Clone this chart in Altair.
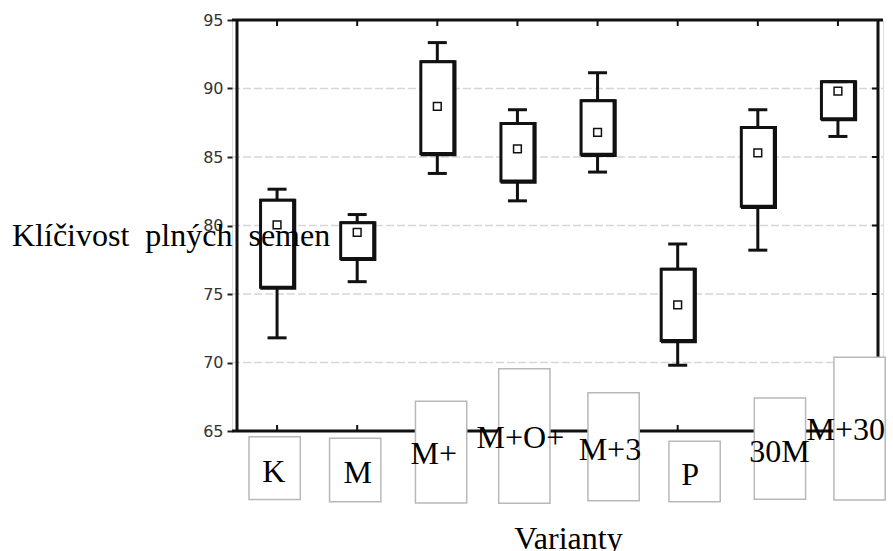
import altair as alt
import pandas as pd

# ---- data ----
categories = ["K", "M", "M+", "M+O+", "M+3", "P", "30M", "M+30"]
whisker_low = [71.8, 75.9, 83.8, 81.8, 83.9, 69.8, 78.2, 86.5]
q1 = [75.5, 77.6, 85.25, 83.25, 85.2, 71.6, 81.4, 87.8]
median = [80.05, 79.5, 88.7, 85.6, 86.8, 74.2, 85.3, 89.8]
q3 = [81.85, 80.2, 91.95, 87.45, 89.1, 76.8, 87.15, 90.5]
whisker_high = [82.65, 80.8, 93.35, 88.45, 91.15, 78.65, 88.45, 90.5]

y_ticks = [65, 70, 75, 80, 85, 90, 95]
grid_values = [70, 75, 80, 85, 90]

# ---- layout of the pasted label boxes (data units) ----
label_box_shift = [-0.03, -0.025, 0.047, 0.086, 0.2, 0.211, 0.276, 0.27]
label_box_half = 0.32
label_box_top = [64.58, 64.47, 67.17, 69.55, 67.8, 64.25, 67.41, 70.38]
label_box_bottom = [60.0, 59.84, 59.74, 59.72, 59.91, 59.84, 60.02, 59.96]
label_text_shift = [-0.04, 0.006, -0.043, 0.037, 0.154, 0.154, 0.27, 0.098]
label_text_base = [61.3, 61.18, 62.6, 63.76, 62.88, 61.06, 62.76, 64.34]

pos = [i + 0.5 for i in range(len(categories))]

df = pd.DataFrame({
    "cat": categories, "pos": pos, "lo": whisker_low, "q1": q1,
    "med": median, "q3": q3, "hi": whisker_high,
    "top": [95] * len(categories), "bottom": [65] * len(categories),
})

lab = pd.DataFrame({
    "cat": categories,
    "bx": [p + s - label_box_half for p, s in zip(pos, label_box_shift)],
    "bx2": [p + s + label_box_half for p, s in zip(pos, label_box_shift)],
    "by": label_box_top, "by2": label_box_bottom,
    "tx": [p + s for p, s in zip(pos, label_text_shift)],
    "ty": label_text_base,
})

right_ticks = pd.DataFrame({"v": y_ticks[1:-1], "edge": [8] * 5})

xscale = alt.Scale(domain=[0, 8], nice=False, zero=False)
yscale = alt.Scale(domain=[65, 95], nice=False, zero=False)

SERIF = "Liberation Serif"

x_axis = alt.Axis(labels=False, ticks=False, domain=False, grid=False,
                  title="Varianty", titleFont=SERIF, titleFontSize=32,
                  titleFontWeight="normal", titleColor="black",
                  titleX=336, titleY=117, titleAlign="center",
                  titleBaseline="alphabetic", zindex=1)
y_axis = alt.Axis(values=y_ticks, grid=False, domain=False,
                  tickSize=5, tickWidth=2, tickColor="#222",
                  labelFont="DejaVu Sans", labelFontSize=16, labelColor="#333",
                  labelPadding=4,
                  title="Klíčivost\u00a0\u00a0plných\u00a0\u00a0semen",
                  titleFont=SERIF, titleFontSize=32, titleFontWeight="normal",
                  titleColor="black", titleAngle=0, titleAlign="left",
                  titleBaseline="alphabetic", titleX=-220.5, titleY=225,
                  zindex=1)


def X(f):
    return alt.X(f, type="quantitative", scale=xscale, axis=x_axis)


def Y(f):
    return alt.Y(f, type="quantitative", scale=yscale, axis=y_axis)


INK = "#111"
base = alt.Chart(df)

# gridlines
grid = alt.Chart(pd.DataFrame({"g": grid_values})).mark_rule(
    color="#d6d6d6", strokeWidth=1.3, strokeDash=[8, 3]
).encode(x=alt.value(0), x2=alt.value(651), y=Y("g"))

whisk_lo = base.mark_rule(color=INK, strokeWidth=3).encode(
    x=X("pos"), y=Y("lo"), y2="q1")
whisk_hi = base.mark_rule(color=INK, strokeWidth=3).encode(
    x=X("pos"), y=Y("q3"), y2="hi")
shadow = base.mark_bar(size=33, fill=INK, stroke=INK, strokeWidth=3,
                       xOffset=1.2, yOffset=1.2).encode(
    x=X("pos"), y=Y("q1"), y2="q3")
boxes = base.mark_bar(size=33, fill="white", stroke=INK, strokeWidth=3).encode(
    x=X("pos"), y=Y("q1"), y2="q3")
cap_lo = base.mark_tick(orient="horizontal", size=19, thickness=3, color=INK,
                        opacity=1).encode(x=X("pos"), y=Y("lo"))
cap_hi = base.mark_tick(orient="horizontal", size=19, thickness=3, color=INK,
                        opacity=1).encode(x=X("pos"), y=Y("hi"))
meds = base.mark_square(size=60, fill="white", stroke=INK, strokeWidth=1.5,
                        opacity=1).encode(x=X("pos"), y=Y("med"))

# frame
frame_v = alt.Chart(pd.DataFrame({"f": [0, 8]})).mark_rule(
    color=INK, strokeWidth=3).encode(x=X("f"), y=alt.value(0), y2=alt.value(411))
frame_h = alt.Chart(pd.DataFrame({"f": [65, 95]})).mark_rule(
    color=INK, strokeWidth=3).encode(y=Y("f"), x=alt.value(0), x2=alt.value(651))

# small inward ticks on the frame
top_ticks = base.mark_tick(orient="vertical", size=6, thickness=2, color=INK,
                           opacity=1, yOffset=3).encode(x=X("pos"), y=Y("top"))
bottom_ticks = base.mark_tick(orient="vertical", size=6, thickness=2, color=INK,
                              opacity=1, yOffset=-3).encode(x=X("pos"), y=Y("bottom"))
side_ticks = alt.Chart(right_ticks).mark_tick(
    orient="horizontal", size=6, thickness=2, color=INK, opacity=1, xOffset=-3
).encode(x=X("edge"), y=Y("v"))

# label boxes
lab_rect = alt.Chart(lab).mark_rect(fill="white", stroke="#b8b8b8", strokeWidth=1.5).encode(
    x=X("bx"), x2="bx2", y=Y("by"), y2="by2")
lab_text = alt.Chart(lab).mark_text(font=SERIF, fontSize=32, color="black",
                                    align="center", baseline="alphabetic").encode(
    x=X("tx"), y=Y("ty"), text="cat:N")

chart = alt.layer(
    grid, whisk_lo, whisk_hi, shadow, boxes, cap_lo, cap_hi, meds,
    frame_v, frame_h, top_ticks, bottom_ticks, side_ticks, lab_rect, lab_text
).properties(
    width=651, height=411,
    autosize=alt.AutoSizeParams(type="none"),
    padding={"left": 232, "top": 20, "right": 10, "bottom": 120},
).configure_view(stroke=None).configure(background="white")

chart.save("out.html", embed_options={"renderer": "svg", "actions": False})
